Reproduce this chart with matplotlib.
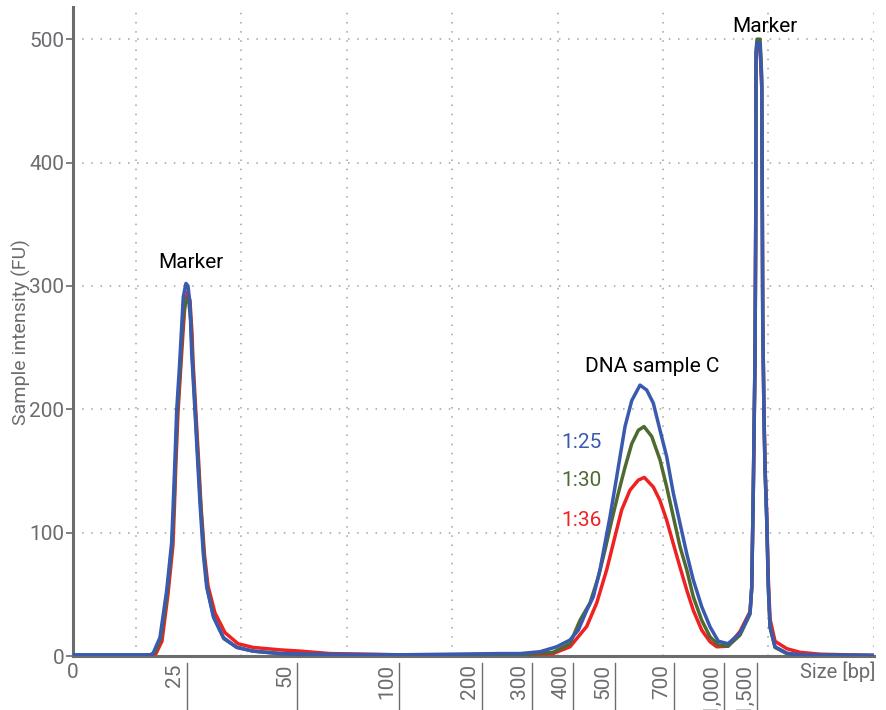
import matplotlib
matplotlib.use("Agg")
import matplotlib.pyplot as plt
import matplotlib.transforms as mtransforms

plt.rcParams['font.family'] = ['Roboto', 'DejaVu Sans']

# migration position (arbitrary units along the run) and intensity in FU
pos_blue = [72, 110, 150, 153, 160, 166.7, 171.7, 173.3, 175, 176.7, 179.3, 181.7, 183.3, 186, 188, 190,
            191.7, 195, 197.3, 200, 203.3, 206.7, 213.3, 223.3, 236.7, 253, 280, 320, 400, 450, 500, 520,
            540, 556.7, 570, 578.3, 586.7, 593.3, 600, 605, 610, 615, 620, 625, 631.7, 640, 646.7, 653.3,
            660, 666.7, 673.3, 680, 686.7, 693.3, 701.7, 710, 718.3, 728, 740, 750, 751.7, 753.3, 755,
            755.7, 756, 757, 760, 761.7, 762.2, 762.7, 764, 765, 766.7, 768.3, 770, 775, 786.7, 800, 874]
fu_blue = [1, 1, 1, 2, 15, 53, 92, 124, 159, 199, 232, 267, 291, 302, 300, 286,
           246, 199, 164, 124, 83, 56, 32, 15, 7, 4, 2, 1.5, 1, 1.5, 2, 2,
           3.5, 7.5, 13, 21, 37, 48, 70, 91.5, 113, 137, 161.5, 186, 207, 219.6, 215.6, 205,
           183, 161.5, 132, 107.5, 83, 61.6, 40, 23.7, 12, 10, 18.6, 35, 56, 137, 245,
           353, 488, 497, 497, 464, 380, 272, 191, 151, 110, 56, 24, 7.5, 2.4, 1, 0.5]

pos_green = [72, 150, 155, 161, 167, 172, 174, 175.5, 177.3, 180, 182.3, 184, 186.5, 189, 191, 192.5,
             195.5, 198, 200.7, 204, 207.3, 214, 224, 237, 253, 280, 320, 400, 470, 520, 553, 570,
             580, 590, 598.3, 605, 611.7, 618.3, 625, 631.7, 638.3, 644, 651.7, 660, 666.7, 673.3,
             680, 686.7, 693.3, 701.7, 710, 718.3, 728, 740, 750, 751.7, 753.3, 755, 755.7, 756, 757,
             760, 761.7, 762.2, 762.7, 764, 765, 766.7, 768.3, 770, 775, 786.7, 800, 874]
fu_green = [0.5, 0.5, 3, 15, 50, 90, 122, 158, 197, 230, 262, 280, 290, 286, 270, 240,
            196, 160, 122, 82, 55, 31, 14, 7, 4, 2, 1, 1, 1, 1, 3, 10,
            29, 43, 64, 86, 110, 132, 153, 172, 183, 186, 178, 159, 137, 113,
            88.6, 70, 48, 29, 15.6, 9, 8, 17, 34, 55, 135, 243, 350, 490, 500,
            500, 470, 385, 275, 193, 152, 110, 55, 23, 7, 2, 1, 0.5]

pos_red = [72, 150, 156, 162, 168, 173, 174.5, 176, 178, 180.5, 183, 185, 187.5, 190, 192, 193,
           196, 198.5, 201, 204.5, 208, 215, 225, 238, 253, 280, 300, 330, 400, 470, 520, 553,
           570, 586.7, 596.7, 606.7, 615, 621.7, 630, 638.3, 644.3, 653.3, 660, 666.7, 673.3, 680,
           686.7, 693.3, 701.7, 710, 716.7, 728, 740, 750, 751.7, 753.3, 755, 755.7, 756, 757, 760,
           761.7, 762.2, 762.7, 764, 765, 766.7, 768.3, 770, 775, 786.7, 800, 820, 874]
fu_red = [0.5, 0.5, 2, 12, 50, 90, 122, 158, 197, 230, 262, 285, 295, 288, 262, 240,
          196, 160, 122, 82, 57, 35, 19, 10, 7, 5, 4, 2, 1, 1, 1, 2,
          7.5, 24, 43, 70, 97, 118.5, 134.5, 142.6, 144.8, 137, 126, 110, 91, 72,
          53.5, 37, 21, 11.6, 7.5, 8, 20, 36, 55, 135, 240, 345, 480, 495, 495,
          460, 380, 275, 195, 155, 115, 62, 30, 12, 6, 3, 1.5, 0.5]

# size ladder: label and where the fragment runs
size_labels = ['25', '50', '100', '200', '300', '400', '500', '700', '1,000', '1,500']
size_pos = [187, 297, 399, 482, 532, 573, 615, 674, 724, 757]
grid_pos = [136, 241.4, 346.8, 452.2, 557.6, 663, 768.4, 873.8]

c_blue = '#3a5ab0'
c_green = '#4e6a30'
c_red = '#ee2222'
gray = '#6b6b70'

fig = plt.figure(figsize=(8.86, 7.10), dpi=100)
ax = fig.add_axes([0.082, 0.076, 0.9045, 0.914])

ax.plot(pos_red, fu_red, color=c_red, lw=2.5, zorder=3)
ax.plot(pos_green, fu_green, color=c_green, lw=2.5, zorder=4)
ax.plot(pos_blue, fu_blue, color=c_blue, lw=2.5, zorder=5)

ax.set_xlim(72.7, 874)
ax.set_ylim(0, 526)

# dotted grid
for g in grid_pos:
    ax.axvline(g, color='#a0a0a0', lw=1.1, ls=(0, (1, 5)), zorder=1)
for yv in [100, 200, 300, 400, 500]:
    ax.axhline(yv, color='#a0a0a0', lw=1.1, ls=(0, (1, 5)), zorder=1)

for s in ['top', 'right']:
    ax.spines[s].set_visible(False)
for s in ['left', 'bottom']:
    ax.spines[s].set_color(gray)
    ax.spines[s].set_linewidth(2.2)

ax.set_yticks([0, 100, 200, 300, 400, 500])
ax.tick_params(axis='y', colors=gray, labelsize=15, length=5, width=1.2, pad=1)
ax.set_xticks([])
ax.set_ylabel('Sample intensity (FU)', color=gray, fontsize=14, labelpad=-1)

# size labels below the axis with marker lines
trans = mtransforms.blended_transform_factory(ax.transData, ax.transAxes)
for lab, p in zip(size_labels, size_pos):
    ax.plot([p, p], [-0.011, -0.085], color=gray, lw=1, transform=trans, clip_on=False)
    ax.text(p - 3, -0.012, lab, rotation=90, ha='right', va='top', color=gray,
            fontsize=15, transform=trans)
ax.text(72.7, -0.01, '0', ha='center', va='top', color=gray, fontsize=15, transform=trans)
ax.text(838, -0.008, 'Size [bp]', ha='center', va='top', color=gray, fontsize=14.5, transform=trans)

ax.text(191, 319, 'Marker', ha='center', va='center', fontsize=15, color='black')
ax.text(765, 510, 'Marker', ha='center', va='center', fontsize=15, color='black')
ax.text(652, 235, 'DNA sample C', ha='center', va='center', fontsize=15, color='black')
ax.text(581, 173, '1:25', ha='center', va='center', fontsize=15, color=c_blue)
ax.text(581, 142, '1:30', ha='center', va='center', fontsize=15, color=c_green)
ax.text(581, 109.5, '1:36', ha='center', va='center', fontsize=15, color=c_red)

fig.savefig('out.png', dpi=100)
